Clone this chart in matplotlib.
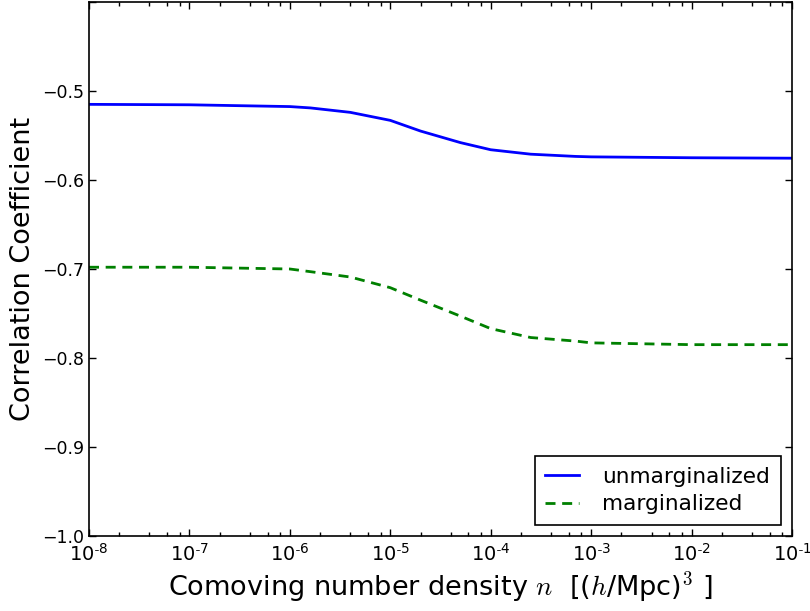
import numpy as np
import matplotlib
matplotlib.use("Agg")
import matplotlib.pyplot as plt
from matplotlib.ticker import FixedLocator, FixedFormatter, LogLocator, NullFormatter

plt.rcParams["mathtext.fontset"] = "cm"

# comoving number density samples [(h/Mpc)^3]
density = [1e-8, 1e-7, 1e-6, 1.6e-6, 4e-6, 1e-5, 2e-5, 5e-5, 1e-4, 2.5e-4,
           7e-4, 1e-3, 1e-2, 1e-1]

# correlation coefficient, parameters fixed
unmarginalized = [-0.515, -0.5155, -0.5175, -0.519, -0.524, -0.533, -0.545,
                  -0.558, -0.566, -0.571, -0.5735, -0.574, -0.575, -0.5755]

# correlation coefficient, other parameters marginalized over
marginalized = [-0.698, -0.698, -0.700, -0.703, -0.709, -0.721, -0.735,
                -0.753, -0.767, -0.777, -0.781, -0.783, -0.785, -0.785]

xtick_vals = [1e-8, 1e-7, 1e-6, 1e-5, 1e-4, 1e-3, 1e-2, 1e-1]
xtick_labels = [r"$\mathdefault{10^{\text{-}%d}}$" % k for k in range(8, 0, -1)]
ytick_vals = [-1.0, -0.9, -0.8, -0.7, -0.6, -0.5, -0.4]
ytick_labels = ["\u22121.0", "\u22120.9", "\u22120.8", "\u22120.7",
                "\u22120.6", "\u22120.5", ""]

fig = plt.figure(figsize=(8.1, 6.11), dpi=100)
ax = fig.add_axes([89 / 810, 75 / 611, (792 - 89) / 810, (536 - 2) / 611])

ax.plot(density, unmarginalized, color="b", lw=2, label="unmarginalized")
ax.plot(density, marginalized, color="g", lw=2, ls="--", dashes=(3.6, 2.4),
        label="marginalized")

ax.set_xscale("log")
ax.set_xlim(1e-8, 1e-1)
ax.set_ylim(-1.0, -0.4)

ax.xaxis.set_major_locator(FixedLocator(xtick_vals))
ax.xaxis.set_major_formatter(FixedFormatter(xtick_labels))
ax.xaxis.set_minor_locator(LogLocator(base=10, subs=[2, 4, 6, 8], numticks=20))
ax.xaxis.set_minor_formatter(NullFormatter())
ax.yaxis.set_major_locator(FixedLocator(ytick_vals))
ax.yaxis.set_major_formatter(FixedFormatter(ytick_labels))

ax.tick_params(which="both", direction="in", top=True, right=True)
ax.tick_params(axis="y", labelsize=12.5)
ax.tick_params(axis="x", labelsize=14, pad=5)
ax.tick_params(which="major", length=5, width=1)
ax.tick_params(which="minor", length=3, width=1)
for s in ax.spines.values():
    s.set_linewidth(1.2)

ax.set_xlabel(r"Comoving number density $n$  [($h$/Mpc)$^3$ ]", fontsize=19.5,
              labelpad=3)
ax.set_ylabel("Correlation Coefficient", fontsize=19.5)

leg = ax.legend(loc="lower right", fontsize=15.6, handlelength=1.57,
                handletextpad=1.06, borderaxespad=0.5, fancybox=False,
                framealpha=1, edgecolor="black", borderpad=0.5, labelspacing=0.35)
leg.get_frame().set_linewidth(1.2)

fig.savefig("out.png", dpi=100)
